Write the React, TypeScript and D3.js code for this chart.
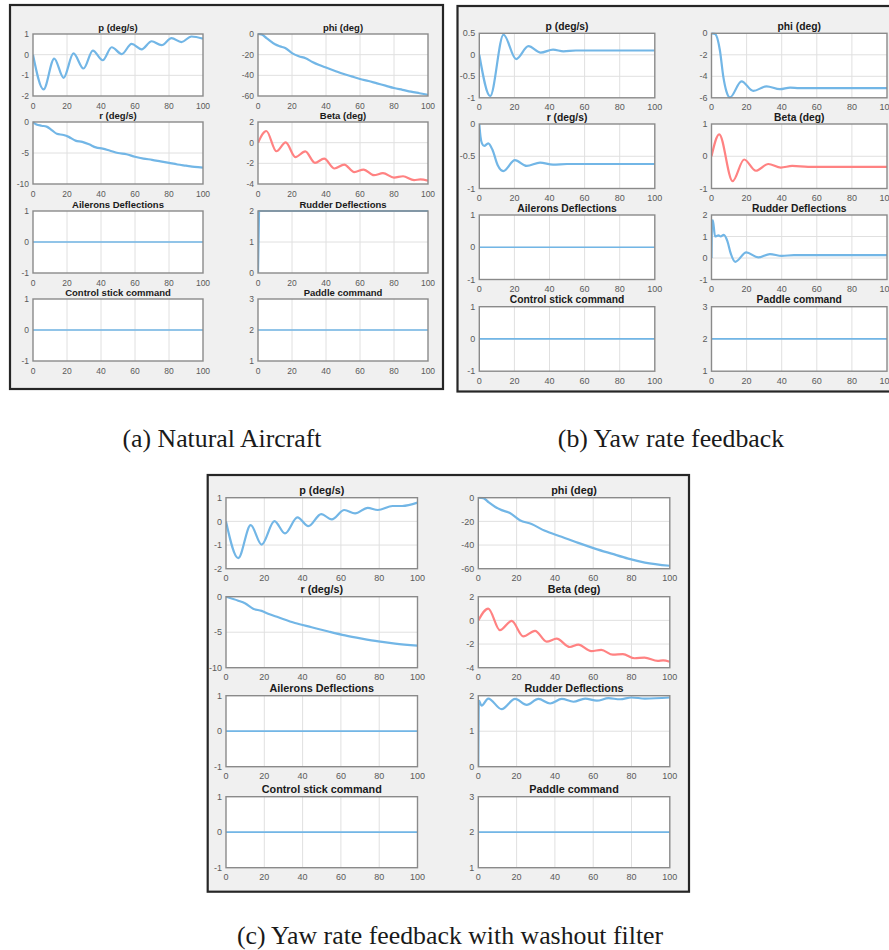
import React from 'react';
import * as d3 from 'd3';

type Pt = [number, number];

// ---------- text ----------
const TITLES = ['p (deg/s)', 'phi (deg)', 'r (deg/s)', 'Beta (deg)', 'Ailerons Deflections', 'Rudder Deflections', 'Control stick command', 'Paddle command'];
const CAPTIONS = ['(a) Natural Aircraft', '(b) Yaw rate feedback', '(c) Yaw rate feedback with washout filter'];
const X_TICKS = [0, 20, 40, 60, 80, 100];

// ---------- y ticks per subplot ----------
const A_YTICKS = [[-2, -1, 0, 1], [-60, -40, -20, 0], [-10, -5, 0], [-4, -2, 0, 2], [-1, 0, 1], [0, 1, 2], [-1, 0, 1], [1, 2, 3]];
const B_YTICKS = [[-1, -0.5, 0, 0.5], [-6, -4, -2, 0], [-1, -0.5, 0], [-1, 0, 1], [-1, 0, 1], [-1, 0, 1, 2], [-1, 0, 1], [1, 2, 3]];
const C_YTICKS = [[-2, -1, 0, 1], [-60, -40, -20, 0], [-10, -5, 0], [-4, -2, 0, 2], [-1, 0, 1], [0, 1, 2], [-1, 0, 1], [1, 2, 3]];

// ---------- series (time s, value) ----------
const ZERO: Pt[] = [[0, 0], [100, 0]];
const TWO: Pt[] = [[0, 2], [100, 2]];

// (a) Natural aircraft
const A_P: Pt[] = [[0, 0], [6.2, -1.68], [12.5, -0.19], [18, -1.12], [23.8, 0.06], [29.7, -0.67], [35.2, 0.2], [41, -0.27], [46.3, 0.36], [52.2, 0.03], [58, 0.52], [63.9, 0.26], [69.8, 0.65], [75.6, 0.46], [81.5, 0.8], [87.3, 0.61], [93.2, 0.88], [100, 0.77]];
const A_PHI: Pt[] = [[0, 0], [2, -0.3], [5, -4], [10, -10], [13, -12], [16, -13.5], [20, -18.5], [24, -21.5], [28, -23.5], [32, -27], [36, -30], [40, -32.5], [45, -35.5], [50, -38.5], [55, -41], [60, -43.5], [65, -45.5], [70, -47.8], [75, -50], [80, -52.3], [85, -54], [90, -55.8], [95, -57.3], [100, -58.8]];
const A_R: Pt[] = [[0, 0], [2, -0.4], [5, -0.6], [8, -0.75], [11, -1.3], [14, -1.9], [18, -2.1], [21, -2.4], [25, -3.0], [29, -3.2], [33, -3.6], [37, -4.1], [41, -4.3], [45, -4.6], [50, -5.0], [55, -5.2], [60, -5.6], [65, -5.9], [70, -6.1], [75, -6.35], [80, -6.6], [85, -6.85], [90, -7.05], [95, -7.25], [100, -7.35]];
const A_BETA: Pt[] = [[0, 0], [4.9, 1.13], [10.8, -0.83], [16.3, 0.02], [22, -1.4], [27.8, -0.85], [33.5, -1.95], [38.9, -1.55], [45, -2.5], [50.7, -2.12], [56.6, -2.85], [62.1, -2.6], [68.2, -3.15], [73.5, -2.95], [80, -3.38], [85.3, -3.25], [91.8, -3.62], [95.5, -3.55], [100, -3.68]];
const A_RUD: Pt[] = [[0, 0], [0.6, 2], [100, 2]];

// (b) Yaw rate feedback
const B_P: Pt[] = [[0, 0], [6.2, -0.96], [13.8, 0.47], [21, -0.1], [28, 0.2], [35, 0.05], [42, 0.12], [48, 0.08], [55, 0.1], [100, 0.1]];
const B_PHI: Pt[] = [[0, 0], [2, -0.05], [4.8, -1.6], [6.7, -4.0], [8.5, -5.4], [10.5, -5.96], [17.1, -4.47], [23.8, -5.36], [31.4, -4.93], [39, -5.2], [44.8, -5.05], [50, -5.1], [100, -5.1]];
const B_R: Pt[] = [[0, 0], [0.7, -0.2], [1.5, -0.3], [2.8, -0.34], [5.1, -0.3], [7.5, -0.4], [10.5, -0.64], [13.7, -0.73], [20.3, -0.56], [27, -0.65], [34.6, -0.6], [42, -0.63], [50, -0.62], [100, -0.62]];
const B_BETA: Pt[] = [[0, 0], [4.4, 0.68], [12, -0.77], [18.6, -0.1], [25.3, -0.45], [32.4, -0.24], [39.5, -0.35], [46, -0.3], [55, -0.33], [100, -0.33]];
const B_RUD: Pt[] = [[0, 0], [0.3, 1.7], [0.8, 1.75], [2, 1.0], [4, 1.05], [5.2, 1.0], [7, 1.08], [9, 0.8], [11, 0.2], [13.5, -0.18], [19.8, 0.26], [26.6, 0.03], [33.3, 0.18], [40, 0.1], [47, 0.13], [100, 0.13]];

// (c) Yaw rate feedback with washout filter
const C_P: Pt[] = [[0, 0], [6.4, -1.55], [12.9, -0.16], [18.6, -0.98], [25.3, 0.01], [30.8, -0.51], [37.3, 0.17], [43, -0.2], [49.7, 0.31], [55.2, 0.08], [61.8, 0.48], [67.4, 0.34], [74, 0.57], [79.3, 0.48], [87, 0.65], [92, 0.65], [100, 0.79]];
const C_PHI: Pt[] = [[0, 0], [2.6, -0.3], [5.5, -4], [8.7, -7.6], [12.2, -10.5], [16.5, -13], [21.7, -19], [27.8, -22.3], [34.8, -28], [43.5, -33], [52.2, -38.2], [60.9, -43], [69.6, -47.3], [78.3, -51.5], [87, -54.8], [100, -57.5]];
const C_R: Pt[] = [[0, 0], [6.4, -0.56], [9.9, -0.93], [14.2, -1.7], [18.6, -2.0], [22, -2.4], [27.3, -2.9], [36, -3.7], [44.7, -4.3], [53.5, -4.9], [62.2, -5.45], [70.9, -5.9], [79.6, -6.3], [88.3, -6.6], [100, -6.9]];
const C_BETA: Pt[] = [[0, 0], [5.2, 1.0], [11.3, -0.83], [17.4, -0.05], [23.5, -1.35], [29.6, -0.88], [35.7, -1.8], [40.9, -1.55], [47.8, -2.25], [52.2, -2.05], [59, -2.6], [64.2, -2.5], [70.3, -2.9], [75.5, -2.85], [81.6, -3.2], [86.8, -3.15], [93.7, -3.42], [96.5, -3.38], [100, -3.5]];
const C_RUD: Pt[] = [[0, 0], [0.3, 1.86], [1.7, 1.72], [5.2, 1.92], [12.2, 1.62], [19.2, 1.91], [25.3, 1.74], [31.4, 1.91], [37.5, 1.78], [43.6, 1.91], [49.7, 1.83], [55.8, 1.92], [61.9, 1.86], [68, 1.93], [74, 1.9], [80, 1.95], [87, 1.92], [100, 1.95]];

const A_SERIES = [A_P, A_PHI, A_R, A_BETA, ZERO, A_RUD, ZERO, TWO];
const B_SERIES = [B_P, B_PHI, B_R, B_BETA, ZERO, B_RUD, ZERO, TWO];
const C_SERIES = [C_P, C_PHI, C_R, C_BETA, ZERO, C_RUD, ZERO, TWO];

// ---------- styles / layout ----------
const BLUE = '#72b6e6';
const RED = '#ff8282';
const SANS = 'Liberation Sans, Arial, sans-serif';
const SERIF = 'Liberation Serif, Times New Roman, serif';

interface PanelLayout {
  frame: [number, number, number, number];
  cols: [number, number];
  w: number;
  rows: number[];
  h: number;
  tickFs: number;
  titleFs: number;
  caption: [number, number];
}

const LAYOUTS: PanelLayout[] = [
  { frame: [10, 5, 433, 384], cols: [33, 258], w: 170, rows: [34, 122, 211, 299], h: 62, tickFs: 8.5, titleFs: 9.5, caption: [222, 447] },
  { frame: [457.5, 6, 470, 385.5], cols: [479.3, 711.5], w: 175.5, rows: [33.3, 124, 215, 306.7], h: 64.5, tickFs: 9, titleFs: 10.3, caption: [671, 447] },
  { frame: [207.7, 475, 481.3, 416.7], cols: [226, 478.3], w: 191.5, rows: [497.7, 596.7, 695.7, 796.7], h: 71, tickFs: 9, titleFs: 10.8, caption: [450, 944] },
];

const PANELS = [
  { ticks: A_YTICKS, series: A_SERIES },
  { ticks: B_YTICKS, series: B_SERIES },
  { ticks: C_YTICKS, series: C_SERIES },
];

const fmt = (v: number) => String(v);

function SubPlot(props: { x0: number; y0: number; w: number; h: number; title: string; ticks: number[]; data: Pt[]; color: string; linear: boolean; tickFs: number; titleFs: number; id: string; }) {
  const { x0, y0, w, h, title, ticks, data, color, linear, tickFs, titleFs, id } = props;
  const xs = d3.scaleLinear().domain([0, 100]).range([x0, x0 + w]);
  const ys = d3.scaleLinear().domain([ticks[0], ticks[ticks.length - 1]]).range([y0 + h, y0]);
  const line = d3.line<Pt>().x(d => xs(d[0])).y(d => ys(d[1])).curve(linear ? d3.curveLinear : d3.curveMonotoneX);
  const flat = data.length === 2;
  return (
    <g>
      <defs>
        <clipPath id={id}><rect x={x0} y={y0 - 1} width={w} height={h + 2} /></clipPath>
      </defs>
      <rect x={x0} y={y0} width={w} height={h} fill="#ffffff" />
      {X_TICKS.slice(1, -1).map(t => (
        <line key={'gx' + t} x1={xs(t)} x2={xs(t)} y1={y0} y2={y0 + h} stroke="#e0e0e0" strokeWidth={1} />
      ))}
      {ticks.slice(1, -1).map(t => (
        <line key={'gy' + t} x1={x0} x2={x0 + w} y1={ys(t)} y2={ys(t)} stroke="#e0e0e0" strokeWidth={1} />
      ))}
      <path d={line(data) || ''} fill="none" stroke={color} strokeWidth={flat ? 1.7 : 2.2} strokeLinejoin="round" clipPath={`url(#${id})`} />
      <rect x={x0} y={y0} width={w} height={h} fill="none" stroke="#8a8a8a" strokeWidth={1.4} />
      {X_TICKS.map(t => (
        <text key={'xl' + t} x={xs(t)} y={y0 + h + 12.5} fontSize={tickFs} fontFamily={SANS} fill="#5a5a5a" textAnchor="middle">{fmt(t)}</text>
      ))}
      {ticks.map(t => (
        <text key={'yl' + t} x={x0 - 4} y={ys(t) + tickFs * 0.35} fontSize={tickFs} fontFamily={SANS} fill="#5a5a5a" textAnchor="end">{fmt(t)}</text>
      ))}
      <text x={x0 + w / 2} y={y0 - 3.5} fontSize={titleFs} fontFamily={SANS} fontWeight="bold" fill="#1a1a1a" textAnchor="middle">{title}</text>
    </g>
  );
}

export default function App() {
  return (
    <svg width={889} height={950} viewBox="0 0 889 950" style={{ position: 'absolute', left: 0, top: 0, background: '#ffffff' }}>
      <rect x={0} y={0} width={889} height={950} fill="#ffffff" />
      {LAYOUTS.map((L, pi) => (
        <g key={'p' + pi}>
          <rect x={L.frame[0]} y={L.frame[1]} width={L.frame[2]} height={L.frame[3]} fill="#f0f0f0" stroke="#262626" strokeWidth={2.2} />
          {TITLES.map((title, i) => {
            const col = i % 2;
            const row = Math.floor(i / 2);
            return (
              <SubPlot
                key={'s' + pi + '-' + i}
                id={`clip-${pi}-${i}`}
                x0={L.cols[col]}
                y0={L.rows[row]}
                w={L.w}
                h={L.h}
                title={title}
                ticks={PANELS[pi].ticks[i]}
                data={PANELS[pi].series[i]}
                color={i === 3 ? RED : BLUE}
                linear={pi === 0 && i === 5}
                tickFs={L.tickFs}
                titleFs={L.titleFs}
              />
            );
          })}
          <text x={L.caption[0]} y={L.caption[1]} fontSize={25.8} fontFamily={SERIF} fill="#1a1a1a" textAnchor="middle">{CAPTIONS[pi]}</text>
        </g>
      ))}
    </svg>
  );
}
